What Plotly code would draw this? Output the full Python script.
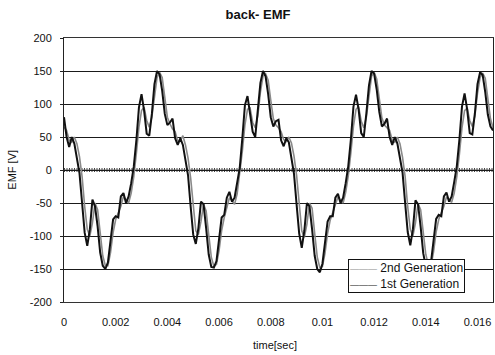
import plotly.graph_objects as go

# sample spacing of the recorded waveforms (s)
dt = 0.0001

# 1st Generation back-EMF [V], sampled every 0.1 ms from t = 0
emf_1st = (
    [80, 50, 35, 50, 40, 15, -5, -50, -95, -115, -90, -45, -55, -85, -125, -145, -150, -140, -105, -75,
     -70, -72, -40, -35, -50, -40, -20, 5, 45, 95, 115, 90, 55, 52, 85, 130, 150, 145, 120, 85, 68, 72]
    + [78, 48, 38, 48, 38, 12, -8, -55, -98, -112, -88, -48, -52, -88, -128, -147, -148, -138, -100, -72,
       -68, -42, -33, -48, -42, -22, 3, 48, 98, 112, 88, 58, 50, 88, 132, 150, 142, 115, 80, 66, 74]
    + [76, 45, 36, 48, 42, 14, -6, -52, -96, -118, -92, -50, -55, -90, -130, -150, -155, -142, -108, -78,
       -70, -70, -42, -36, -50, -42, -20, 6, 46, 96, 114, 92, 56, 50, 86, 128, 150, 146, 122, 88, 66, 70]
    + [78, 50, 38, 50, 40, 16, -4, -50, -94, -114, -90, -46, -52, -86, -126, -146, -148, -140, -104, -74,
       -68, -70, -40, -34, -48, -40, -18, 6, 46, 96, 116, 92, 56, 54, 86, 130, 148, 144, 118, 84, 66, 60]
)

# 2nd Generation back-EMF [V]
emf_2nd = (
    [65, 60, 45, 42, 50, 40, 20, -10, -55, -90, -100, -80, -50, -60, -95, -130, -145, -145, -125, -95,
     -75, -65, -55, -40, -45, -50, -35, -10, 25, 65, 90, 95, 75, 65, 80, 115, 140, 148, 140, 110, 80, 70]
    + [62, 58, 44, 44, 52, 38, 18, -12, -58, -92, -98, -78, -52, -62, -98, -132, -146, -143, -122, -92,
       -72, -55, -42, -46, -52, -36, -8, 28, 68, 92, 94, 72, 64, 82, 118, 142, 146, 136, 106, 78, 68]
    + [64, 58, 46, 43, 50, 41, 21, -8, -54, -92, -102, -82, -50, -58, -96, -132, -148, -146, -126, -96,
       -76, -64, -54, -41, -46, -50, -34, -9, 26, 66, 92, 96, 74, 64, 80, 116, 142, 148, 138, 108, 79, 68]
    + [64, 60, 45, 42, 50, 40, 19, -10, -56, -90, -100, -80, -51, -60, -94, -128, -144, -145, -124, -94,
       -75, -66, -55, -41, -45, -49, -35, -10, 24, 64, 90, 94, 75, 66, 82, 116, 140, 147, 139, 108, 78, 64]
)

t_1st = [i * dt for i in range(len(emf_1st))]
t_2nd = [i * dt for i in range(len(emf_2nd))]

x_tick_vals = [0, 0.002, 0.004, 0.006, 0.008, 0.01, 0.012, 0.014, 0.016]
x_tick_text = ["0", "0.002", "0.004", "0.006", "0.008", "0.01", "0.012", "0.014", "0.016"]
y_tick_vals = [-200, -150, -100, -50, 0, 50, 100, 150, 200]
y_tick_text = ["-200", "-150", "-100", "-50", "0", "50", "100", "150", "200"]

series_names = ["2nd Generation", "1st Generation"]
series_colors = ["#8a8a8a", "#111111"]

X_MAX = 0.0166
FONT = "Liberation Sans, Arial, sans-serif"

fig = go.Figure()
fig.add_trace(go.Scatter(x=t_2nd, y=emf_2nd, mode="lines", name=series_names[0],
                         line=dict(color=series_colors[0], width=1.6)))
fig.add_trace(go.Scatter(x=t_1st, y=emf_1st, mode="lines", name=series_names[1],
                         line=dict(color=series_colors[1], width=2)))

# hatched zero line
fig.add_shape(type="line", xref="x", yref="y", x0=0, x1=X_MAX, y0=0, y1=0,
              line=dict(color="#444444", width=4, dash="1px,1.5px"), layer="below")
fig.add_shape(type="line", xref="x", yref="y", x0=0, x1=X_MAX, y0=0, y1=0,
              line=dict(color="#666666", width=1), layer="below")

# compact legend box (Excel-style)
legend_text = "<br>".join(
    f"<span style='color:{c};font-size:9px'>———</span> {n}"
    for n, c in zip(series_names, series_colors)
)

fig.update_layout(
    width=495, height=355,
    margin=dict(l=64, r=2, t=38, b=53),
    paper_bgcolor="white", plot_bgcolor="white",
    font=dict(family=FONT, size=11, color="#111111"),
    title=dict(text="<b>back- EMF</b>", x=258 / 495, xanchor="center",
               y=1 - 14 / 355, yanchor="middle", yref="container",
               font=dict(family=FONT, size=13, color="#111111")),
    showlegend=False,
    xaxis=dict(range=[0, X_MAX], tickvals=x_tick_vals, ticktext=x_tick_text,
               showgrid=False, zeroline=False, showline=True, mirror=True,
               linecolor="#333333", linewidth=1, ticks="", ticklen=0,
               ticklabelstandoff=10, tickfont=dict(size=11)),
    yaxis=dict(range=[-200, 200], tickvals=y_tick_vals, ticktext=y_tick_text,
               showgrid=True, gridcolor="#1a1a1a", gridwidth=1,
               zeroline=False, showline=True, mirror=True,
               linecolor="#222222", linewidth=1, ticks="outside", ticklen=3,
               tickcolor="#222222", ticklabelstandoff=6, tickfont=dict(size=11)),
    annotations=[
        dict(text="EMF [V]", xref="paper", yref="paper", x=-0.122, y=0.5,
             xanchor="center", yanchor="middle", textangle=-90, showarrow=False,
             font=dict(family=FONT, size=11, color="#111111")),
        dict(text="time[sec]", xref="paper", yref="paper", x=0.493, y=-0.163,
             xanchor="center", yanchor="middle", showarrow=False,
             font=dict(family=FONT, size=11, color="#111111")),
        dict(text=legend_text, xref="paper", yref="paper", x=0.662, y=0.034,
             xanchor="left", yanchor="bottom", align="left", showarrow=False,
             bgcolor="white", bordercolor="#111111", borderwidth=1, borderpad=1,
             font=dict(family=FONT, size=12, color="#111111")),
    ],
)

fig.write_html("out.html")
